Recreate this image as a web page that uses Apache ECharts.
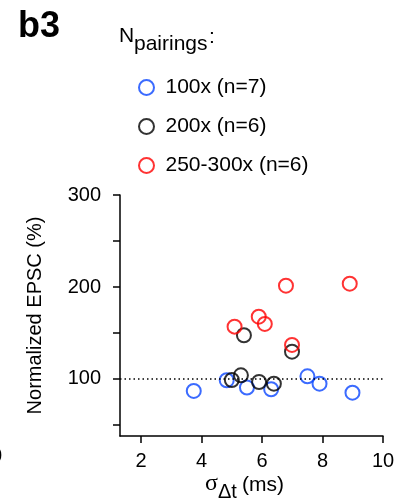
<!DOCTYPE html>
<html>
<head>
<meta charset="utf-8">
<script src="https://cdn.jsdelivr.net/npm/echarts@6/dist/echarts.min.js"></script>
<style>
  html, body { margin: 0; padding: 0; background: #fff; }
  #main { width: 413px; height: 504px; }
</style>
</head>
<body>
<div id="main"></div>
<script type="text/javascript">
  // data: [sigma_dt (ms), normalized EPSC (%)]
  var groups = ['100x (n=7)', '200x (n=6)', '250-300x (n=6)'];
  var colors = ['#0a46ff', '#000000', '#ff0000'];
  var pts100 = [[3.74, 87], [4.83, 98.6], [5.5, 90.6], [6.3, 88.8], [7.5, 102.9], [7.9, 94.9], [8.99, 85.1]];
  var pts200 = [[5.4, 147.5], [6.99, 129.7], [5.3, 104], [5.0, 98.9], [5.9, 96.7], [6.39, 94.9]];
  var pts250 = [[6.79, 201.4], [8.9, 203.6], [5.89, 167.7], [6.09, 159.8], [5.09, 156.9], [6.99, 137]];
  var xTicks = [2, 4, 6, 8, 10];
  var yTicks = [50, 100, 150, 200, 250, 300];
  var yLabels = [100, 200, 300];
  var baseline = 100;

  var font = 'Liberation Sans, Arial, sans-serif';
  var myChart = echarts.init(document.getElementById('main'));

  function ser(name, data, color) {
    return {
      name: name,
      type: 'scatter',
      data: data,
      symbol: 'circle',
      symbolSize: 14,
      itemStyle: { color: 'transparent', borderColor: color, borderWidth: 2 },
      emphasis: { disabled: true }
    };
  }

  var series = [
    ser(groups[0], pts100, colors[0]),
    ser(groups[1], pts200, colors[1]),
    ser(groups[2], pts250, colors[2])
  ];
  series[0].markLine = {
    silent: true,
    symbol: 'none',
    label: { show: false },
    lineStyle: { color: '#000', type: [1.5, 3], width: 1.5 },
    data: [{ yAxis: baseline }]
  };

  var option = {
    animation: false,
    textStyle: { fontFamily: font },
    grid: { left: 120, right: 30, top: 195, bottom: 68 },
    legend: {
      orient: 'vertical',
      left: 133,
      top: 72,
      itemWidth: 28,
      itemHeight: 15,
      itemGap: 18,
      data: groups,
      textStyle: { fontSize: 21, color: '#000', fontFamily: font }
    },
    xAxis: {
      type: 'value',
      min: 1.3,
      max: 10,
      splitLine: { show: false },
      axisLine: { onZero: false, lineStyle: { color: '#000', width: 1.5 } },
      axisTick: { customValues: xTicks, length: 7, lineStyle: { color: '#000', width: 1.5 } },
      axisLabel: { customValues: xTicks, margin: 15, fontSize: 20, color: '#000' }
    },
    yAxis: {
      type: 'value',
      min: 38,
      max: 300,
      name: 'Normalized EPSC (%)',
      nameLocation: 'middle',
      nameRotate: 90,
      nameGap: 75,
      nameTextStyle: { fontSize: 20, color: '#000' },
      splitLine: { show: false },
      axisLine: { show: true, onZero: false, lineStyle: { color: '#000', width: 1.5 } },
      axisTick: { show: true, customValues: yTicks, length: 7, lineStyle: { color: '#000', width: 1.5 } },
      axisLabel: { customValues: yLabels, margin: 19, fontSize: 20, color: '#000' }
    },
    graphic: [
      { type: 'text', left: 18, top: 9, style: { text: 'b3', font: 'bold 36px ' + font, fill: '#000' } },
      { type: 'text', x: 119, y: 26, style: { text: 'N', font: '21px ' + font, fill: '#000' } },
      { type: 'text', x: 134, y: 34, style: { text: 'pairings', font: '21px ' + font, fill: '#000' } },
      { type: 'text', x: 209, y: 27, style: { text: ':', font: '21px ' + font, fill: '#000' } },
      { type: 'text', x: 205, y: 472, style: { text: 'σ', font: '24px Liberation Serif, serif', fill: '#000' } },
      { type: 'text', x: 218, y: 482, style: { text: 'Δt', font: '20px ' + font, fill: '#000' } },
      { type: 'text', x: 242, y: 475, style: { text: '(ms)', font: '21px ' + font, fill: '#000' } },
      { type: 'text', x: -9, y: 446, style: { text: '0', font: '20px ' + font, fill: '#000' } }
    ],
    series: series
  };

  myChart.setOption(option);
</script>
</body>
</html>
